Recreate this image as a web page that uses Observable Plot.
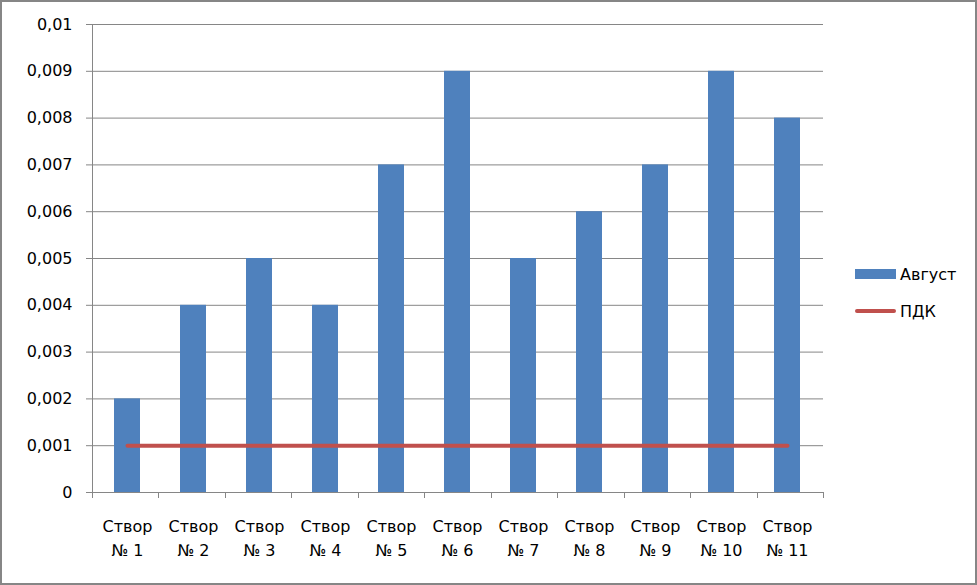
<!DOCTYPE html>
<html>
<head>
<meta charset="utf-8">
<script src="https://cdn.jsdelivr.net/npm/d3@7"></script>
<script src="https://cdn.jsdelivr.net/npm/@observablehq/plot@0.6"></script>
<style>
  html, body { margin: 0; padding: 0; background: #fff; }
  #chart { position: relative; width: 977px; height: 585px; font-family: "DejaVu Sans", sans-serif; }
  #border { position: absolute; left: 0; top: 0; width: 977px; height: 585px; box-sizing: border-box; border: 2px solid #868686; pointer-events: none; }
  #legend { position: absolute; left: 855px; top: 263px; font-size: 16px; color: #000; }
  .item { display: flex; align-items: center; height: 22px; margin-bottom: 15px; }
  .sw { width: 41px; margin-right: 4px; }
</style>
</head>
<body>
<div id="chart"><div id="border"></div></div>
<script>
const categories = ["Створ\n№ 1", "Створ\n№ 2", "Створ\n№ 3", "Створ\n№ 4", "Створ\n№ 5", "Створ\n№ 6",
                    "Створ\n№ 7", "Створ\n№ 8", "Створ\n№ 9", "Створ\n№ 10", "Створ\n№ 11"];
const august = [0.002, 0.004, 0.005, 0.004, 0.007, 0.009, 0.005, 0.006, 0.007, 0.009, 0.008];
const pdk = [0.001, 0.001, 0.001, 0.001, 0.001, 0.001, 0.001, 0.001, 0.001, 0.001, 0.001];
const yTicks = [0, 0.001, 0.002, 0.003, 0.004, 0.005, 0.006, 0.007, 0.008, 0.009, 0.01];
const yTickLabels = ["0", "0,001", "0,002", "0,003", "0,004", "0,005", "0,006", "0,007", "0,008", "0,009", "0,01"];
const seriesNames = ["Август", "ПДК"];

const BLUE = "#4F81BD", RED = "#C0504D", GRID = "#868686";

const barData = categories.map((c, i) => ({cat: c, value: august[i]}));
const lineData = categories.map((c, i) => ({cat: c, value: pdk[i]}));

function axesFrame(index, scales, values, dimensions) {
  const {width, height, marginLeft, marginRight, marginTop, marginBottom} = dimensions;
  const x0 = marginLeft, x1 = width - marginRight, yb = height - marginBottom;
  const step = (x1 - x0) / categories.length;
  const g = d3.create("svg:g").attr("stroke", GRID).attr("stroke-width", 1).attr("fill", "none");
  g.append("line").attr("x1", x0 + 0.5).attr("x2", x0 + 0.5).attr("y1", marginTop).attr("y2", yb + 6);
  for (let i = 0; i <= categories.length; i++) {
    const x = Math.round(x0 + i * step) + 0.5;
    g.append("line").attr("x1", x).attr("x2", x).attr("y1", yb).attr("y2", yb + 6);
  }
  return g.node();
}

const plot = Plot.plot({
  width: 977,
  height: 585,
  marginLeft: 92,
  marginRight: 154,
  marginTop: 24,
  marginBottom: 93,
  style: {fontFamily: "DejaVu Sans, sans-serif", fontSize: "16px", color: "#000", background: "transparent", overflow: "visible"},
  x: {domain: categories, paddingInner: 0.6, paddingOuter: 0.3},
  y: {domain: [0, 0.01]},
  marks: [
    Plot.gridY(yTicks, {stroke: GRID, strokeOpacity: 1}),
    Plot.barY(barData, {x: "cat", y: "value", fill: BLUE}),
    Plot.lineY(lineData, {x: "cat", y: "value", stroke: RED, strokeWidth: 4, strokeLinecap: "round"}),
    axesFrame,
    Plot.axisY(yTicks, {tickFormat: (d) => yTickLabels[yTicks.indexOf(d)], tickSize: 6, tickPadding: 14, stroke: GRID, strokeOpacity: 1, fill: "#000", fontSize: 16, label: null}),
    Plot.axisX({tickSize: 0, tickPadding: 22, fontSize: 16, lineHeight: 1.5, fill: "#000", label: null})
  ]
});
plot.style.position = "absolute";
plot.style.left = "0";
plot.style.top = "0";
const chart = document.getElementById("chart");
chart.insertBefore(plot, chart.firstChild);

const legend = document.createElement("div");
legend.id = "legend";
legend.innerHTML =
  `<div class="item"><div class="sw" style="height:10px;background:${BLUE}"></div><span>${seriesNames[0]}</span></div>` +
  `<div class="item"><div class="sw" style="height:4px;border-radius:2px;background:${RED}"></div><span>${seriesNames[1]}</span></div>`;
chart.appendChild(legend);
</script>
</body>
</html>
